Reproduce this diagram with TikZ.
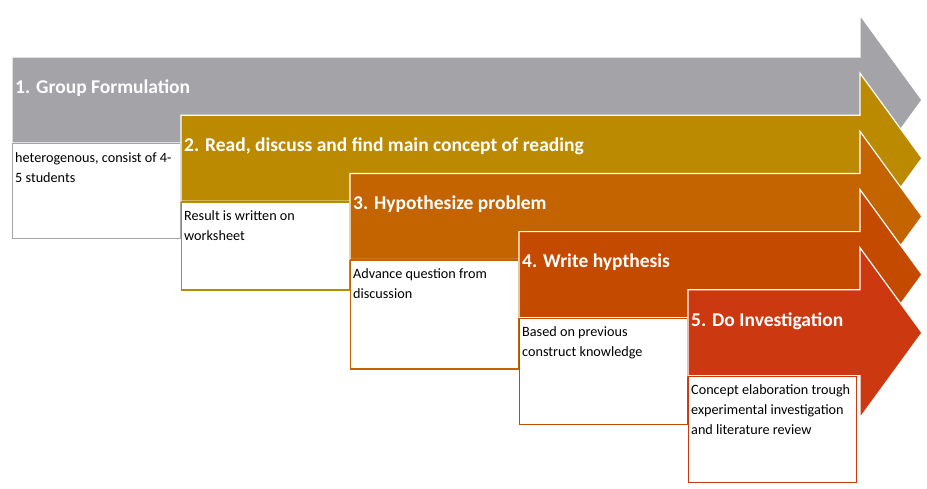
\documentclass[tikz,border=0pt]{standalone}
\usepackage{fontspec}
\setmainfont{Carlito}
\usetikzlibrary{calc,positioning}
\definecolor{stepgrey}{HTML}{A4A4A8}
\definecolor{stepgold}{HTML}{BB8A00}
\definecolor{steporange}{HTML}{C46400}
\definecolor{stepburnt}{HTML}{C44A00}
\definecolor{stepred}{HTML}{CC3810}
\tikzset{
  arrowbody/.style={fill=#1, draw=white, line width=1.2pt, line join=miter},
  steptitle/.style={anchor=west, text=white, inner sep=0pt, font=\fontsize{19.5}{22}\selectfont\bfseries},
  notebox/.style={rectangle, draw=#1, fill=white, line width=1.3pt, minimum width=168pt, anchor=north west, inner sep=0pt},
  stepnote/.style={anchor=north west, align=left, inner sep=0pt, font=\fontsize{14.2}{20}\selectfont},
}
\begin{document}
\begin{tikzpicture}[x=1pt,y=-1pt]
  \useasboundingbox (0,0) rectangle (927,488);

  \foreach \i/\col/\title/\note/\h in {
      0/stepgrey/{1. Group Formulation}/{heterogenous, consist of 4-\\5 students}/95,
      1/stepgold/{2. Read, discuss and find main concept of reading}/{Result is written on\\worksheet}/88,
      2/steporange/{3. Hypothesize problem}/{Advance question from\\discussion}/109,
      3/stepburnt/{4. Write hypthesis}/{Based on previous\\construct knowledge}/106,
      4/stepred/{5. Do Investigation}/{Concept elaboration trough\\experimental investigation\\and literature review}/106}{
    \pgfmathsetmacro\L{12+169*\i}
    \pgfmathsetmacro\T{57+58.2*\i}
    % arrow of the step
    \path[arrowbody=\col] (\L,\T) -- (860,\T) -- (860,\T-42) -- (922,\T+43)
      -- (860,\T+128) -- (860,\T+86) -- (\L,\T+86) -- cycle;
    \node[steptitle] (title\i) at (\L+3,\T+31) {\title};
    % description under the arrow
    \node[notebox=\col, minimum height=\h pt] (box\i) at (\L,\T+86) {};
    \node[stepnote, below right=9pt and 3pt of box\i.north west] (note\i) {\note};
  }
\end{tikzpicture}
\end{document}
